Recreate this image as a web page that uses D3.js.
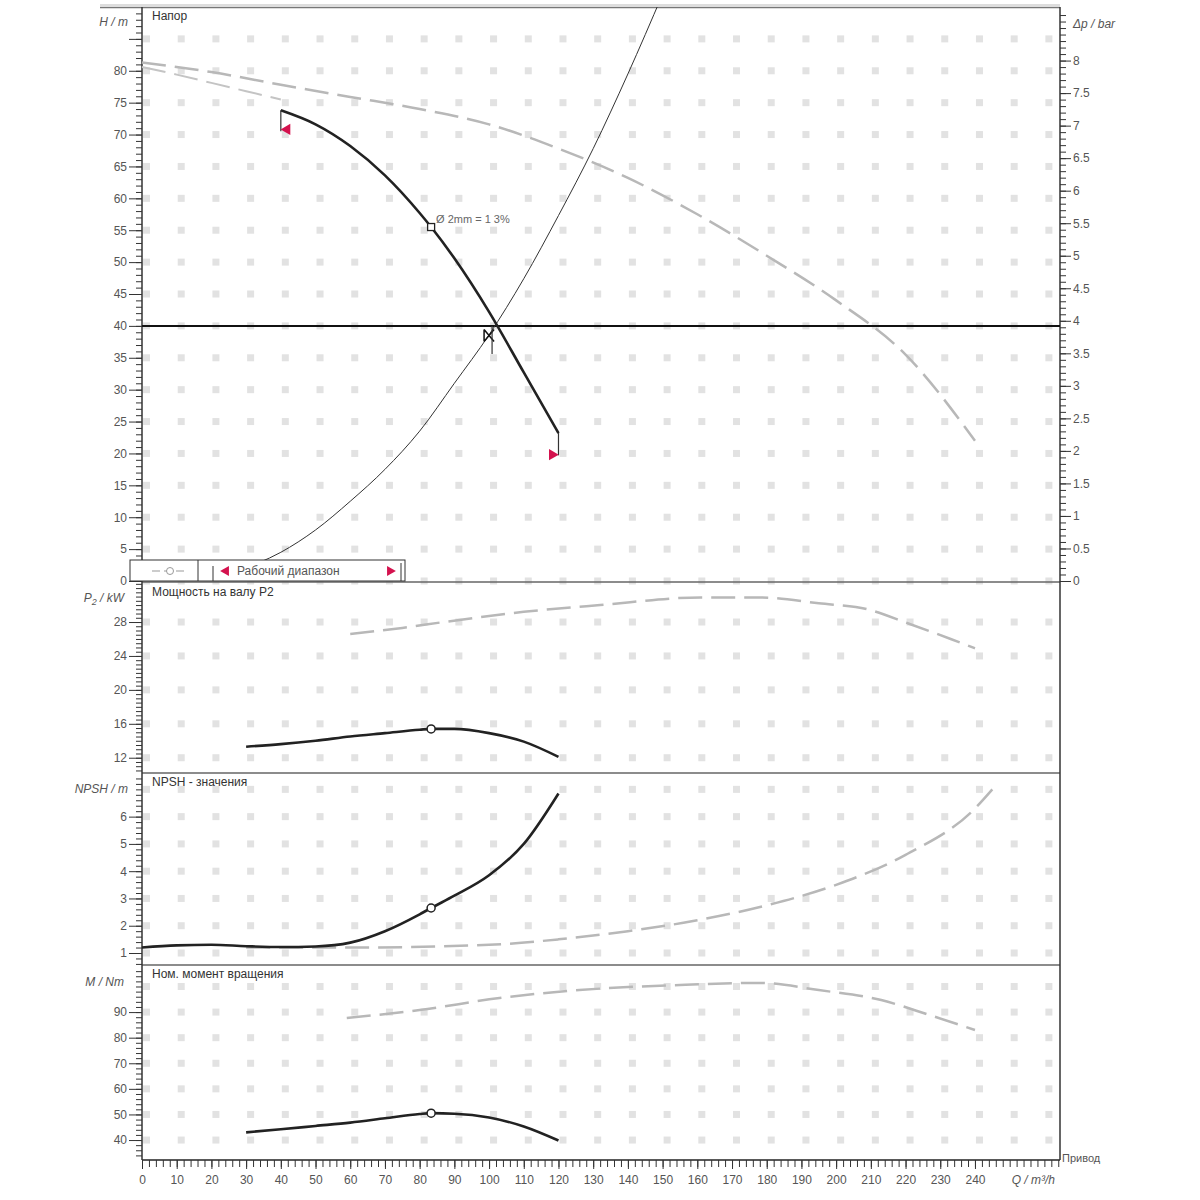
<!DOCTYPE html>
<html><head><meta charset="utf-8">
<script src="https://cdn.jsdelivr.net/npm/d3@7"></script>
<style>
html,body{margin:0;padding:0;background:#fff;}
text{font-family:"Liberation Sans",Arial,sans-serif;}
</style></head>
<body>
<script>
// ---------- DATA ----------
const qTicks = d3.range(0, 250, 10);
// Head panel
const hTicks = d3.range(0, 85, 5);
const dpTicks = d3.range(0, 8.5, 0.5);
const maxCurveQ = [0, 20, 40, 60, 80, 100, 120, 140, 160, 180, 200, 220, 240];
const maxCurveH = [81.3, 79.8, 77.8, 75.9, 74.0, 71.6, 67.8, 63.2, 57.5, 51.0, 44.0, 35.5, 22.0];
const maxLowQ = [0, 10, 20, 30, 40];
const maxLowH = [80.6, 79.4, 78.1, 76.8, 75.5];
const pumpQ = [40, 50, 60, 70, 80, 83.3, 90, 100, 110, 120];
const pumpH = [73.8, 71.6, 68.2, 63.6, 57.7, 55.5, 50.6, 42.2, 32.7, 23.2];
const sysQ = [27, 40, 50, 60, 70, 80, 90, 100, 110, 120, 130, 140, 150];
const sysH = [1.5, 4.5, 8.0, 12.5, 17.5, 23.5, 31.0, 38.6, 47.4, 57.3, 67.8, 79.5, 92.0];
const dutyQ = 100, dutyH = 38.5, setH = 40;
const ratedQ = 83.3, ratedH = 55.5;
// Power panel
const p2Ticks = [12, 16, 20, 24, 28];
const p2Q = [30, 40, 50, 60, 70, 80, 83.3, 90, 100, 110, 120];
const p2Val = [13.3, 13.6, 14.0, 14.5, 14.9, 15.3, 15.4, 15.4, 14.9, 13.9, 12.1];
const p2MaxQ = [60, 75, 87, 110, 132, 161, 178, 195, 209, 221, 233, 240];
const p2MaxVal = [26.6, 27.3, 28.0, 29.2, 30.0, 30.9, 30.9, 30.2, 29.5, 27.8, 26.0, 24.9];
// NPSH panel
const npshTicks = [1, 2, 3, 4, 5, 6];
const npshQ = [0, 10, 20, 30, 40, 50, 60, 70, 80, 83.3, 90, 100, 110, 120];
const npshVal = [1.2, 1.28, 1.3, 1.25, 1.22, 1.24, 1.38, 1.8, 2.42, 2.65, 3.1, 3.85, 5.0, 6.85];
const npshMaxQ = [30, 60, 100, 120, 140, 160, 180, 200, 220, 240, 245];
const npshMaxVal = [1.2, 1.2, 1.3, 1.5, 1.8, 2.2, 2.75, 3.5, 4.6, 6.3, 7.0];
// Torque panel
const mTicks = [40, 50, 60, 70, 80, 90];
const mQ = [30, 40, 50, 60, 70, 80, 83.3, 90, 100, 110, 120];
const mVal = [43.0, 44.2, 45.5, 46.8, 48.5, 50.2, 50.5, 50.3, 48.8, 45.3, 39.8];
const mMaxQ = [59, 80, 103, 126, 155, 178, 195, 213, 227, 240];
const mMaxVal = [87.7, 90.8, 95.5, 98.6, 100.6, 101.4, 98.6, 94.7, 88.8, 83.0];

// ---------- LAYOUT ----------
const L = 142, R = 1060;
const svg = d3.select('body').append('svg').attr('width', 1200).attr('height', 1200);
const x = d3.scaleLinear().domain([0, 264.5]).range([L, R]);
const yH = d3.scaleLinear().domain([0, 90]).range([581, 7]);
const yDp = d3.scaleLinear().domain([0, 90 / 10.2]).range([581, 7]);
const yP = d3.scaleLinear().domain([10.2, 32.6]).range([773, 583]);
const yN = d3.scaleLinear().domain([0.56, 7.6]).range([965, 773]);
const yM = d3.scaleLinear().domain([32.2, 108.4]).range([1160, 965]);

const labelCol = '#555', fs = 12;

// grid dots
function gridDots(y, vals) {
  const g = svg.append('g');
  const pts = [];
  qTicks.concat([250, 260]).forEach(q => vals.forEach(v => pts.push([q, v])));
  g.selectAll('rect').data(pts).join('rect')
    .attr('x', d => x(d[0]) + 1).attr('y', d => y(d[1]) - 3.5)
    .attr('width', 7).attr('height', 7).attr('fill', '#e2e2e2');
}
gridDots(yH, d3.range(0, 90, 5));
gridDots(yP, [12, 16, 20, 24, 28]);
gridDots(yN, [1, 2, 3, 4, 5, 6, 7]);
gridDots(yM, [40, 50, 60, 70, 80, 90, 100]);

// frame lines
const frame = svg.append('g');
[[5, '#bbb', 1], [7.5, '#777', 1.5]].forEach(([yy, c, w]) =>
  frame.append('line').attr('x1', 100).attr('x2', R).attr('y1', yy).attr('y2', yy).attr('stroke', c).attr('stroke-width', w));
[582, 773, 965].forEach(yy =>
  frame.append('line').attr('x1', L).attr('x2', R).attr('y1', yy).attr('y2', yy).attr('stroke', '#666').attr('stroke-width', 1.5));
frame.append('line').attr('x1', L).attr('x2', R).attr('y1', 1160).attr('y2', 1160).attr('stroke', '#222').attr('stroke-width', 1.5);
frame.append('line').attr('x1', L).attr('x2', L).attr('y1', 7).attr('y2', 1160).attr('stroke', '#333').attr('stroke-width', 1.5);
frame.append('line').attr('x1', R).attr('x2', R).attr('y1', 7).attr('y2', 1160).attr('stroke', '#333').attr('stroke-width', 1.5);

// left axes
function leftAxis(y, minor, major, fmt) {
  const g1 = svg.append('g').attr('transform', `translate(${L},0)`)
    .call(d3.axisLeft(y).tickValues(minor).tickSize(6).tickFormat(''));
  const g2 = svg.append('g').attr('transform', `translate(${L},0)`)
    .call(d3.axisLeft(y).tickValues(major).tickSize(13).tickPadding(2).tickFormat(fmt || d3.format('d')));
  [g1, g2].forEach(g => { g.select('.domain').remove(); g.selectAll('line').attr('stroke', '#333'); });
  g2.selectAll('text').attr('fill', labelCol).attr('font-size', fs).style('font-family', '"Liberation Sans",Arial,sans-serif');
}
leftAxis(yH, d3.range(0, 90, 1), hTicks);
svg.append('g').attr('transform', `translate(${L},0)`).call(d3.axisLeft(yH).tickValues([85]).tickSize(13).tickFormat('')).call(g => { g.select('.domain').remove(); g.selectAll('line').attr('stroke', '#333'); });
leftAxis(yP, d3.range(10.5, 32.6, 0.5), p2Ticks);
leftAxis(yN, d3.range(0.6, 7.6, 0.2), npshTicks);
leftAxis(yM, d3.range(34, 108, 2), mTicks);

// right axis
const gr1 = svg.append('g').attr('transform', `translate(${R},0)`)
  .call(d3.axisRight(yDp).tickValues(d3.range(0, 8.8, 0.1)).tickSize(6).tickFormat(''));
const gr2 = svg.append('g').attr('transform', `translate(${R},0)`)
  .call(d3.axisRight(yDp).tickValues(dpTicks).tickSize(11).tickPadding(2).tickFormat(d => d3.format('')(d)));
[gr1, gr2].forEach(g => { g.select('.domain').remove(); g.selectAll('line').attr('stroke', '#333'); });
gr2.selectAll('text').attr('fill', labelCol).attr('font-size', fs).style('font-family', '"Liberation Sans",Arial,sans-serif');

// bottom axis
const gb1 = svg.append('g').attr('transform', 'translate(0,1160)')
  .call(d3.axisBottom(x).tickValues(d3.range(0, 265, 2)).tickSize(7).tickFormat(''));
const gb2 = svg.append('g').attr('transform', 'translate(0,1160)')
  .call(d3.axisBottom(x).tickValues(qTicks).tickSize(9).tickPadding(6).tickFormat(d3.format('d')));
[gb1, gb2].forEach(g => { g.select('.domain').remove(); g.selectAll('line').attr('stroke', '#333'); });
gb2.selectAll('text').attr('fill', labelCol).attr('font-size', fs).style('font-family', '"Liberation Sans",Arial,sans-serif');

// axis titles & panel titles
function txt(s, xx, yy, anchor, opts = {}) {
  return svg.append('text').attr('x', xx).attr('y', yy).attr('text-anchor', anchor || 'start')
    .attr('font-size', opts.size || fs).attr('fill', opts.fill || labelCol)
    .attr('font-style', opts.italic ? 'italic' : null).text(s);
}
txt('H / m', 128, 26, 'end', { italic: true });
txt('Δp / bar', 1073, 28, 'start', { italic: true });
const p2lab = svg.append('text').attr('x', 124).attr('y', 602).attr('text-anchor', 'end')
  .attr('font-size', fs).attr('fill', labelCol).attr('font-style', 'italic');
p2lab.append('tspan').text('P');
p2lab.append('tspan').attr('font-size', 9).attr('dy', 3).text('2');
p2lab.append('tspan').attr('dy', -3).text(' / kW');
txt('NPSH / m', 128, 793, 'end', { italic: true });
txt('M / Nm', 124, 986, 'end', { italic: true });
txt('Q / m³/h', 1055, 1184, 'end', { italic: true });
txt('Привод', 1062, 1162, 'start', { size: 11 });
txt('Напор', 152, 20, 'start', { fill: '#333' });
txt('Мощность на валу P2', 152, 596, 'start', { fill: '#333' });
txt('NPSH - значения', 152, 786, 'start', { fill: '#333' });
txt('Ном. момент вращения', 152, 978, 'start', { fill: '#333' });

// helper for curves
function curve(qs, vs, y, style) {
  const line = d3.line().x(d => x(d[0])).y(d => y(d[1])).curve(d3.curveMonotoneX);
  return svg.append('path').datum(qs.map((q, i) => [q, vs[i]])).attr('d', line)
    .attr('fill', 'none').attr('stroke', style.stroke).attr('stroke-width', style.width)
    .attr('stroke-dasharray', style.dash || null);
}
const grayDash = { stroke: '#b8b8b8', width: 2.5, dash: '24,9' };
const black = { stroke: '#222', width: 2.6 };

// head panel
svg.append('line').attr('x1', L).attr('x2', R).attr('y1', yH(setH)).attr('y2', yH(setH)).attr('stroke', '#111').attr('stroke-width', 2);
curve(maxCurveQ, maxCurveH, yH, grayDash);
curve(maxLowQ, maxLowH, yH, { stroke: '#c4c4c4', width: 2, dash: '24,9' });
svg.append('clipPath').attr('id', 'c1').append('rect').attr('x', L).attr('y', 7).attr('width', R - L).attr('height', 553);
curve(sysQ, sysH, yH, { stroke: '#333', width: 1 }).attr('clip-path', 'url(#c1)');
curve(pumpQ, pumpH, yH, black);
// end lines
svg.append('line').attr('x1', x(pumpQ[0])).attr('x2', x(pumpQ[0])).attr('y1', yH(pumpH[0])).attr('y2', yH(70.5)).attr('stroke', '#333').attr('stroke-width', 1.2);
svg.append('line').attr('x1', x(pumpQ[pumpQ.length - 1])).attr('x2', x(pumpQ[pumpQ.length - 1])).attr('y1', yH(pumpH[pumpH.length - 1])).attr('y2', yH(19.7)).attr('stroke', '#333').attr('stroke-width', 1.2);
// range markers
const red = '#d4124e';
svg.append('path').attr('d', d3.symbol(d3.symbolTriangle, 55)()).attr('fill', red)
  .attr('transform', `translate(${x(41.8)},${yH(70.8)}) rotate(-90)`);
svg.append('path').attr('d', d3.symbol(d3.symbolTriangle, 55)()).attr('fill', red)
  .attr('transform', `translate(${x(118.2)},${yH(19.8)}) rotate(90)`);
// rated marker
svg.append('rect').attr('x', x(ratedQ) - 3.5).attr('y', yH(ratedH) - 3.5).attr('width', 7).attr('height', 7).attr('fill', '#fff').attr('stroke', '#222').attr('stroke-width', 1.3);
txt('Ø 2mm  = 1 3%', x(ratedQ) + 5, yH(ratedH) - 4, 'start', { size: 11, fill: '#666' });
// duty point marker
const dx = x(dutyQ), dy = yH(dutyH);
svg.append('path').attr('d', `M${dx - 5},${dy - 6}L${dx + 5},${dy + 6}M${dx - 5},${dy + 6}L${dx + 5},${dy - 6}M${dx - 5},${dy - 6}L${dx - 5},${dy + 6}`)
  .attr('stroke', '#111').attr('stroke-width', 1.5).attr('fill', 'none');
svg.append('line').attr('x1', dx + 3).attr('x2', dx + 3).attr('y1', yH(setH)).attr('y2', yH(35.6)).attr('stroke', '#333').attr('stroke-width', 1.2);

// legend box
const lg = svg.append('g');
lg.append('rect').attr('x', 130).attr('y', 560).attr('width', 275).attr('height', 21).attr('fill', '#fff').attr('stroke', '#333').attr('stroke-width', 1);
lg.append('line').attr('x1', 198).attr('x2', 198).attr('y1', 560).attr('y2', 581).attr('stroke', '#333');
lg.append('line').attr('x1', 213).attr('x2', 213).attr('y1', 566).attr('y2', 581).attr('stroke', '#333');
lg.append('line').attr('x1', 401).attr('x2', 401).attr('y1', 563).attr('y2', 581).attr('stroke', '#333');
lg.append('line').attr('x1', 152).attr('x2', 188).attr('y1', 571).attr('y2', 571).attr('stroke', '#999').attr('stroke-dasharray', '8,4');
lg.append('circle').attr('cx', 170).attr('cy', 571).attr('r', 3.5).attr('fill', '#fff').attr('stroke', '#999');
lg.append('path').attr('d', d3.symbol(d3.symbolTriangle, 45)()).attr('fill', red).attr('transform', 'translate(226,571) rotate(-90)');
lg.append('path').attr('d', d3.symbol(d3.symbolTriangle, 45)()).attr('fill', red).attr('transform', 'translate(390,571) rotate(90)');
lg.append('text').attr('x', 237).attr('y', 575).attr('font-size', 12).attr('fill', '#555').text('Рабочий диапазон');

// power panel
curve(p2MaxQ, p2MaxVal, yP, grayDash);
curve(p2Q, p2Val, yP, black);
svg.append('circle').attr('cx', x(ratedQ)).attr('cy', yP(15.4)).attr('r', 4).attr('fill', '#fff').attr('stroke', '#222').attr('stroke-width', 1.5);

// npsh panel
curve(npshMaxQ, npshMaxVal, yN, grayDash);
curve(npshQ, npshVal, yN, black);
svg.append('circle').attr('cx', x(ratedQ)).attr('cy', yN(2.65)).attr('r', 4).attr('fill', '#fff').attr('stroke', '#222').attr('stroke-width', 1.5);

// torque panel
curve(mMaxQ, mMaxVal, yM, grayDash);
curve(mQ, mVal, yM, black);
svg.append('circle').attr('cx', x(ratedQ)).attr('cy', yM(50.5)).attr('r', 4).attr('fill', '#fff').attr('stroke', '#222').attr('stroke-width', 1.5);
</script>
</body></html>
